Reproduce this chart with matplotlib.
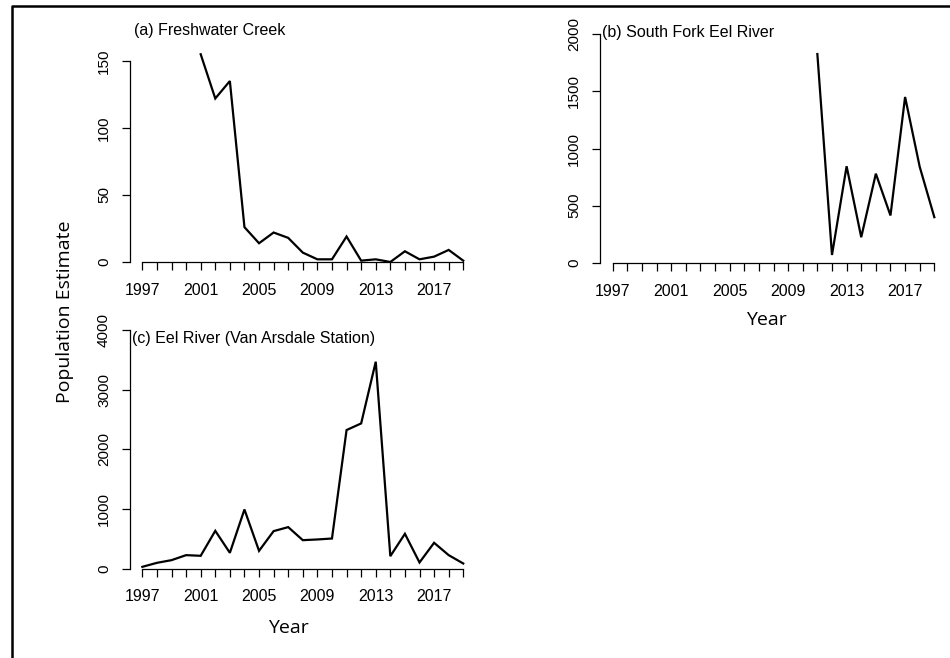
import matplotlib
matplotlib.use("Agg")
import matplotlib.pyplot as plt
from matplotlib.lines import Line2D

# Freshwater Creek
years_a = list(range(2001, 2020))
pop_a = [155, 122, 135, 26, 14, 22, 18, 7, 2, 2, 19, 1, 2, 0, 8, 2, 4, 9, 1]

# South Fork Eel River
years_b = list(range(2011, 2020))
pop_b = [1825, 70, 845, 225, 780, 415, 1450, 840, 400]

# Eel River (Van Arsdale Station)
years_c = list(range(1997, 2020))
pop_c = [28, 95, 140, 224, 213, 632, 263, 990, 296, 627, 694, 475, 487, 503,
         2322, 2433, 3468, 207, 582, 101, 431, 224, 84]

year_ticks = list(range(1997, 2020))
year_labels = [str(y) if (y - 1997) % 4 == 0 else "" for y in year_ticks]

W, H = 950, 658
TICK_FONT = "Liberation Sans"
LABEL_FONT = "Open Sans"


def rect(left, right, top, bottom):
    return [left / W, 1 - bottom / H, (right - left) / W, (bottom - top) / H]


fig = plt.figure(figsize=(W / 100, H / 100), dpi=100)


def panel(box, x, y, ymax, yticks, title, title_xy):
    ax = fig.add_axes(box)
    ax.plot(x, y, color="black", lw=1.6, solid_joinstyle="miter")
    ax.set_xlim(1996.12, 2019.88)
    ax.set_ylim(0, ymax)
    for s in ["top", "right"]:
        ax.spines[s].set_visible(False)
    ax.spines["left"].set_bounds(yticks[0], yticks[-1])
    ax.spines["bottom"].set_bounds(1997, 2019)
    for s in ["left", "bottom"]:
        ax.spines[s].set_linewidth(0.9)
    ax.set_xticks(year_ticks)
    ax.set_xticklabels(year_labels, fontfamily=TICK_FONT, fontsize=11.5)
    ax.set_yticks(yticks)
    ax.set_yticklabels([str(v) for v in yticks], rotation=90, va="center",
                       fontfamily=TICK_FONT, fontsize=11)
    ax.tick_params(axis="x", direction="out", length=5.8, width=0.9, pad=9)
    ax.tick_params(axis="y", direction="out", length=5.8, width=0.9, pad=7.5)
    fig.text(title_xy[0] / W, 1 - title_xy[1] / H, title, ha="left", va="center",
             fontfamily=TICK_FONT, fontsize=11.5)
    return ax


ax_a = panel(rect(129.5, 476.1, 34, 262), years_a, pop_a, 170.1, [0, 50, 100, 150],
             "(a) Freshwater Creek", (134, 31))
ax_b = panel(rect(599.8, 947.2, 34, 263), years_b, pop_b, 2000, [0, 500, 1000, 1500, 2000],
             "(b) South Fork Eel River", (602, 33))
ax_c = panel(rect(129.5, 476.1, 330, 568.5), years_c, pop_c, 4000,
             [0, 1000, 2000, 3000, 4000],
             "(c) Eel River (Van Arsdale Station)", (132, 338))

# axis titles
fig.text(766 / W, 1 - 320 / H, "Year", ha="center", va="center",
         fontfamily=LABEL_FONT, fontsize=14)
fig.text(288 / W, 1 - 628 / H, "Year", ha="center", va="center",
         fontfamily=LABEL_FONT, fontsize=14)
fig.text(65 / W, 1 - 312 / H, "Population Estimate", ha="center", va="center",
         rotation=90, fontfamily=LABEL_FONT, fontsize=14)

# frame on left and top
fig.add_artist(Line2D([12 / W, 12 / W, 1], [0, 1 - 6 / H, 1 - 6 / H],
                      transform=fig.transFigure, color="black", lw=1.8))

fig.savefig("out.png", dpi=100)
